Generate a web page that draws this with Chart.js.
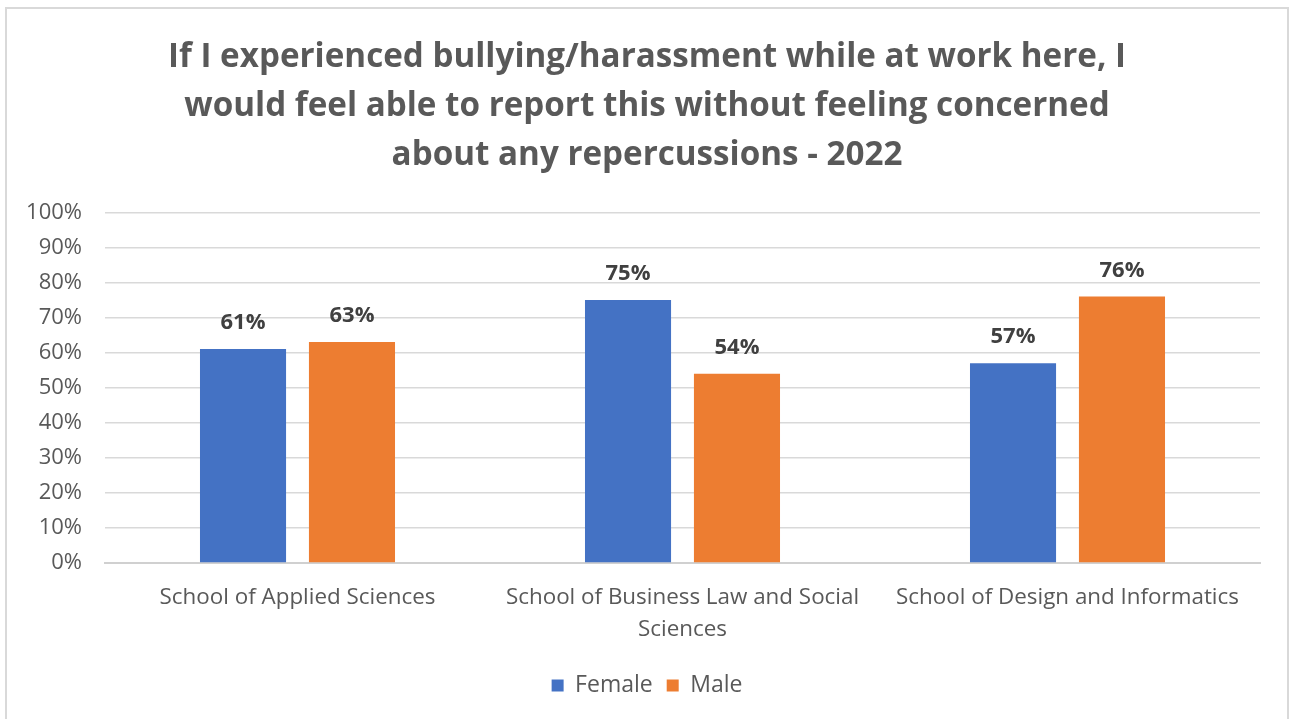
<!DOCTYPE html>
<html>
<head>
<meta charset="utf-8">
<script src="https://cdn.jsdelivr.net/npm/chart.js@4"></script>
<style>
  html, body { margin: 0; padding: 0; background: #fff; overflow: hidden; }
  #frame {
    position: absolute; left: 5px; top: 7px;
    width: 1280px; height: 740px;
    border: 2px solid #d9d9d9; border-bottom: none;
    background: #fff;
  }
  #wrap { position: absolute; left: 0; top: 0; width: 1280px; height: 710px; }
</style>
</head>
<body>
<div id="frame"><div id="wrap"><canvas id="chart"></canvas></div></div>
<script>
// Survey results by school, split by gender (percent agreeing)
const titleLines = [
  'If I experienced bullying/harassment while at work here, I',
  'would feel able to report this without feeling concerned',
  'about any repercussions - 2022'
];
const schools = [
  'School of Applied Sciences',
  ['School of Business Law and Social', 'Sciences'],
  'School of Design and Informatics'
];
const female = [61, 75, 57];
const male = [63, 54, 76];
const yTicks = [0, 10, 20, 30, 40, 50, 60, 70, 80, 90, 100];

const FONT = '"Open Sans", "Noto Sans", sans-serif';
const GRAY = '#595959';

// Bold value labels above each bar
const valueLabels = {
  id: 'valueLabels',
  afterDatasetsDraw(chart) {
    const ctx = chart.ctx;
    ctx.save();
    ctx.font = 'bold 22px ' + FONT;
    ctx.fillStyle = '#404040';
    ctx.textAlign = 'center';
    ctx.textBaseline = 'middle';
    chart.data.datasets.forEach((ds, i) => {
      chart.getDatasetMeta(i).data.forEach((bar, j) => {
        ctx.fillText(ds.data[j] + '%', bar.x, bar.y - 26);
      });
    });
    ctx.restore();
  }
};

new Chart(document.getElementById('chart'), {
  type: 'bar',
  data: {
    labels: schools,
    datasets: [
      { label: 'Female', data: female, backgroundColor: '#4472C4' },
      { label: 'Male', data: male, backgroundColor: '#ED7D31' }
    ]
  },
  options: {
    responsive: true,
    maintainAspectRatio: false,
    animation: false,
    datasets: { bar: { categoryPercentage: 0.566, barPercentage: 0.79 } },
    layout: { padding: { left: 0, right: 0, top: 24, bottom: 12 } },
    plugins: {
      title: {
        display: true,
        text: titleLines,
        color: GRAY,
        font: { family: FONT, size: 33.2, weight: 'bold', lineHeight: 1.48 },
        padding: { top: 0, bottom: 32 }
      },
      legend: {
        position: 'bottom',
        labels: {
          color: GRAY,
          font: { family: FONT, size: 23 },
          boxWidth: 12, boxHeight: 12,
          padding: 14
        }
      },
      tooltip: { enabled: false }
    },
    scales: {
      x: {
        afterFit(scale) { scale.height -= 5; },
        grid: { display: false, drawTicks: false },
        border: { color: '#d0d0d0', width: 2 },
        ticks: { color: GRAY, font: { family: FONT, size: 22.4, lineHeight: 1.43 }, padding: 19, maxRotation: 0 }
      },
      y: {
        min: 0, max: 100,
        afterFit(scale) { scale.width = 98; },
        afterBuildTicks(scale) { scale.ticks = yTicks.map(v => ({ value: v })); },
        grid: { color: '#d9d9d9', lineWidth: 1.5, drawTicks: false },
        border: { display: false },
        ticks: {
          color: GRAY, font: { family: FONT, size: 22 }, padding: 23,
          callback: v => v + '%'
        }
      },
      // empty right-hand margin axis so the plot ends short of the frame
      yMargin: {
        position: 'right',
        min: 0, max: 100,
        afterFit(scale) { scale.width = 27; },
        grid: { display: false, drawTicks: false },
        border: { display: false },
        ticks: { display: false }
      }
    }
  },
  plugins: [valueLabels]
});
</script>
</body>
</html>
